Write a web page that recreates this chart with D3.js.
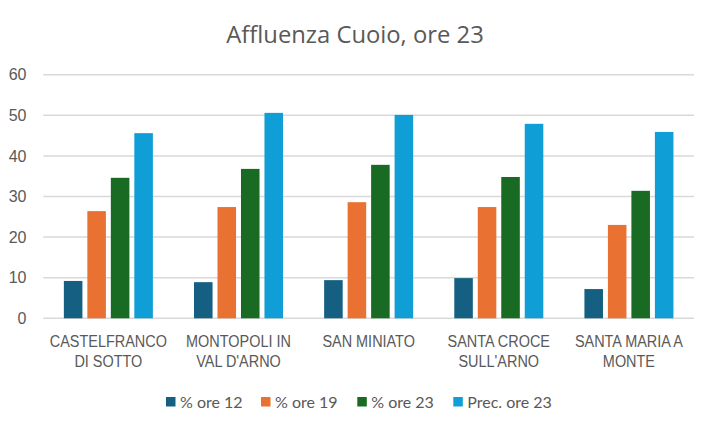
<!DOCTYPE html>
<html><head><meta charset="utf-8">
<script src="https://cdn.jsdelivr.net/npm/d3@7"></script>
<style>html,body{margin:0;padding:0;background:#fff;}</style>
</head><body>
<svg id="chart" width="712" height="429"></svg>
<script>
const categories = [["CASTELFRANCO","DI SOTTO"],["MONTOPOLI IN","VAL D'ARNO"],["SAN MINIATO"],["SANTA CROCE","SULL'ARNO"],["SANTA MARIA A","MONTE"]];
const seriesNames = ["% ore 12","% ore 19","% ore 23","Prec. ore 23"];
const ore12 = [9.2, 8.9, 9.4, 9.9, 7.2];
const ore19 = [26.4, 27.4, 28.6, 27.4, 23.0];
const ore23 = [34.6, 36.8, 37.8, 34.8, 31.4];
const prec23 = [45.6, 50.6, 50.1, 47.9, 45.9];
const yTicks = [0,10,20,30,40,50,60];
const colors = ["#156082","#E97132","#196B24","#0F9ED5"];
const series = [ore12, ore19, ore23, prec23];

(function(){
const svg = d3.select("#chart");
const pLeft = 43.3, pRight = 694, pTop = 74.7, pBottom = 318.3;

const x0 = d3.scaleBand().domain(d3.range(categories.length)).range([pLeft, pRight]).padding(0);
const x1 = d3.scaleBand().domain(d3.range(seriesNames.length))
  .range([x0.bandwidth()*0.158, x0.bandwidth()*0.842]).paddingInner(0.21).paddingOuter(0);
const y = d3.scaleLinear().domain([0,60]).range([pBottom, pTop]);

svg.append("text").attr("x", 355).attr("y", 43).attr("text-anchor","middle")
  .attr("font-family","'Open Sans', sans-serif").attr("font-size", 23.8).attr("fill","#595959")
  .text("Affluenza Cuoio, ore 23");

svg.append("g").selectAll("line").data(yTicks).join("line")
  .attr("x1", pLeft).attr("x2", pRight)
  .attr("y1", d=>y(d)).attr("y2", d=>y(d))
  .attr("stroke","#d9d9d9").attr("stroke-width",1.5);

svg.append("g").selectAll("text").data(yTicks).join("text")
  .attr("x", 26.5).attr("y", d=>y(d)).attr("dy","0.35em").attr("text-anchor","end")
  .attr("font-family","'Liberation Sans', Arial, sans-serif").attr("font-size",16).attr("fill","#595959")
  .text(d=>d);

const g = svg.append("g");
categories.forEach((c,i)=>{
  series.forEach((s,j)=>{
    g.append("rect")
      .attr("x", x0(i)+x1(j)).attr("width", x1.bandwidth())
      .attr("y", y(s[i])).attr("height", y(0)-y(s[i]))
      .attr("fill", colors[j]);
  });
});

const cl = svg.append("g");
categories.forEach((c,i)=>{
  c.forEach((line,k)=>{
    cl.append("text").attr("text-anchor","middle")
      .attr("transform", `translate(${x0(i)+x0.bandwidth()/2},${347 + k*20}) scale(0.85,1)`)
      .attr("font-family","'Liberation Sans', Arial, sans-serif").attr("font-size",17)
      .attr("fill","#595959").text(line);
  });
});

const legX = [166, 261, 357.3, 453.3];
const lg = svg.append("g");
seriesNames.forEach((n,j)=>{
  lg.append("rect").attr("x", legX[j]).attr("y", 397).attr("width",9.5).attr("height",9.5).attr("fill",colors[j]);
  lg.append("text").attr("x", legX[j]+14).attr("y", 402).attr("dy","0.35em")
    .attr("font-family","Lato, sans-serif").attr("font-size",16).attr("fill","#595959").text(n);
});
})();
</script>
</body></html>
